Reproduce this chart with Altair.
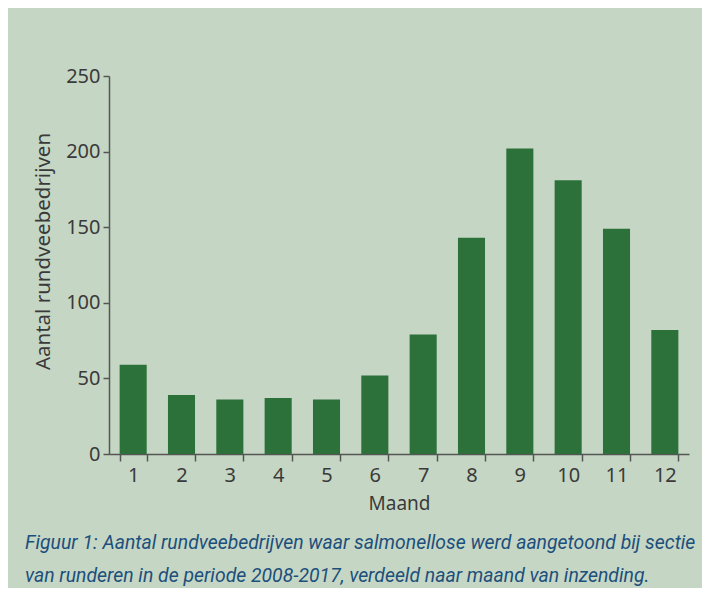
import altair as alt
import pandas as pd

months = [str(i) for i in range(1, 13)]
values = [59, 39, 36, 37, 36, 52, 79, 143, 202, 181, 149, 82]
y_ticks = [0, 50, 100, 150, 200, 250]
caption = [
    "Figuur 1: Aantal rundveebedrijven waar salmonellose werd aangetoond bij sectie",
    "van runderen in de periode 2008-2017, verdeeld naar maand van inzending.",
]

df = pd.DataFrame({"Maand": months, "Aantal": values})

FONT = "Noto Sans"
TXT = "#3a3a3a"
AX = "#555555"

chart = (
    alt.Chart(df)
    .mark_bar(color="#2c7139")
    .encode(
        x=alt.X(
            "Maand:N",
            sort=months,
            title="Maand",
            scale=alt.Scale(paddingInner=0.44, paddingOuter=0.22),
            axis=alt.Axis(
                labelAngle=0,
                tickBand="extent",
                tickSize=7,
                labelPadding=4,
                titlePadding=9,
                titleFontSize=19,
            ),
        ),
        y=alt.Y(
            "Aantal:Q",
            title="Aantal rundveebedrijven",
            scale=alt.Scale(domain=[0, 250], nice=False),
            axis=alt.Axis(values=y_ticks, tickSize=6, labelPadding=3, titlePadding=12,
                          grid=False, titleFontSize=20.5, titleY=175),
        ),
    )
    .properties(
        width=580,
        height=378,
        autosize=alt.AutoSizeParams(type="none"),
        padding={"left": 101, "top": 68, "right": 13, "bottom": 134},
        title=alt.TitleParams(
            text=caption,
            orient="bottom",
            anchor="start",
            frame="group",
            dx=-84,
            offset=21,
            font="Roboto",
            fontStyle="italic",
            fontWeight="normal",
            fontSize=19.4,
            lineHeight=33,
            color="#1d4f7c",
        ),
    )
    .configure(background="#c5d7c4")
    .configure_view(stroke=None)
    .configure_axis(
        labelFont=FONT,
        titleFont=FONT,
        labelFontSize=20,
        titleFontWeight="normal",
        labelColor=TXT,
        titleColor=TXT,
        domainColor=AX,
        tickColor=AX,
        domainWidth=1.5,
        tickWidth=1.5,
    )
)

chart.save("out.html", embed_options={"renderer": "svg", "actions": False})
